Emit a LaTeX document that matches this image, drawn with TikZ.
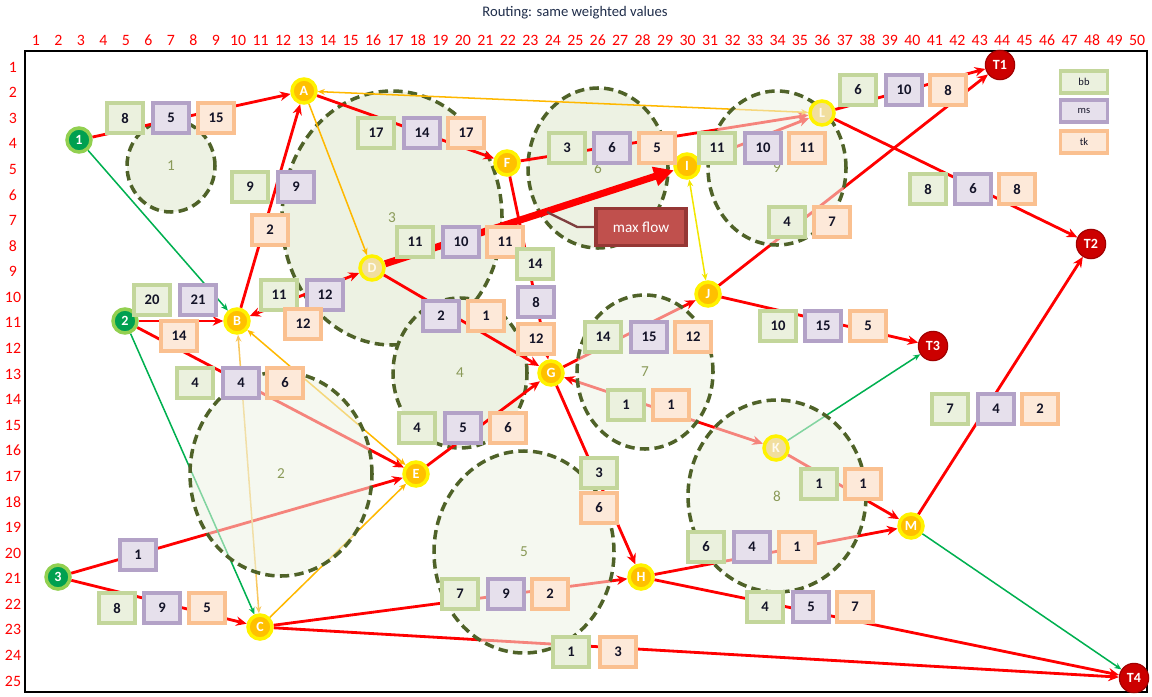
\documentclass[tikz,border=0pt]{standalone}
\usepackage{fontspec}
\setmainfont{Carlito}
\usetikzlibrary{arrows.meta,shapes.geometric,positioning}
\definecolor{bbLine}{HTML}{C3D69B}
\definecolor{bbFill}{HTML}{EBF1DE}
\definecolor{msLine}{HTML}{B3A2C7}
\definecolor{msFill}{HTML}{E6E0EC}
\definecolor{tkLine}{HTML}{FAC090}
\definecolor{tkFill}{HTML}{FDE9D9}
\definecolor{zoneLine}{HTML}{4F6228}
\definecolor{zoneFill}{HTML}{EDF2E3}
\definecolor{zoneInk}{HTML}{8A9A58}
\definecolor{routerFill}{HTML}{FFC000}
\definecolor{routerRing}{HTML}{FFF200}
\definecolor{paleFill}{HTML}{F1DE9E}
\definecolor{srcFill}{HTML}{00A050}
\definecolor{srcRing}{HTML}{92D050}
\definecolor{tgtFill}{HTML}{CC0000}
\definecolor{tgtRing}{HTML}{A00000}
\definecolor{linkRed}{HTML}{FF0000}
\definecolor{linkOrange}{HTML}{FFB800}
\definecolor{linkPale}{HTML}{F8C860}
\definecolor{linkYellow}{HTML}{F2E600}
\definecolor{linkGreen}{HTML}{00B050}
\definecolor{mfFill}{HTML}{C0504D}
\definecolor{mfLine}{HTML}{953735}
\definecolor{calloutInk}{HTML}{7F3F3F}
\definecolor{titleInk}{HTML}{1F2D4A}
\definecolor{boxInk}{HTML}{141428}
\pgfdeclarelayer{zones}
\pgfdeclarelayer{links}
\pgfdeclarelayer{veil}
\pgfsetlayers{zones,links,veil,main}

\begin{document}
\begin{tikzpicture}[x=0.03cm,y=-0.03cm,
  router/.style={circle,fill=routerFill,draw=routerRing,line width=3pt,minimum size=0.72cm,
                 inner sep=0pt,text=white,font=\bfseries\fontsize{12}{12}\selectfont},
  routerpale/.style={router,fill=paleFill,text=white!85!paleFill},
  source/.style={router,fill=srcFill,draw=srcRing},
  target/.style={circle,fill=tgtFill,draw=tgtRing,line width=1pt,minimum size=0.88cm,
                 inner sep=0pt,text=white,font=\bfseries\fontsize{12}{12}\selectfont},
  wbox/.style={rectangle,line width=3pt,minimum width=1.09cm,minimum height=0.89cm,inner sep=0pt,
               text=boxInk,font=\bfseries\fontsize{12.5}{12.5}\selectfont},
  bb/.style={wbox,draw=bbLine,fill=bbFill},
  ms/.style={wbox,draw=msLine,fill=msFill},
  tk/.style={wbox,draw=tkLine,fill=tkFill},
  keybox/.style={minimum width=1.41cm,minimum height=0.66cm,font=\fontsize{9}{9}\selectfont},
  zone/.style={ellipse,draw=zoneLine,fill=zoneFill,dash pattern=on 8pt off 4.5pt,line width=3pt,
               inner sep=0pt,text=zoneInk,font=\fontsize{13}{13}\selectfont},
  zoneveil/.style={zone,fill opacity=0.55,text opacity=1,draw opacity=1},
  axisnum/.style={text=linkRed,font=\fontsize{13.5}{13.5}\selectfont},
  flow/.style={-{Stealth[length=9pt,width=8pt]},linkRed,line width=2.4pt},
  flowboth/.style={flow,{Stealth[length=9pt,width=8pt]}-{Stealth[length=9pt,width=8pt]}},
  thin/.style={-{Stealth[length=6pt,width=5pt]},line width=1.3pt},
  thinboth/.style={thin,{Stealth[length=6pt,width=5pt]}-{Stealth[length=6pt,width=5pt]}},
  maxarr/.style={-{Triangle[length=17pt,width=16pt]},linkRed,line width=6pt},
  mfbox/.style={rectangle,fill=mfFill,draw=mfLine,line width=3pt,minimum width=2.7cm,
                minimum height=1.1cm,text=white,font=\fontsize{13}{13}\selectfont}]

  \useasboundingbox (0,0) rectangle (1152,696);

  % title and grid numbers
  \node[text=titleInk,font=\fontsize{12.5}{12.5}\selectfont] (title) at (575,13) {Routing: same weighted values};
  \foreach \c in {1,...,50}
    \node[axisnum] (col\c) at ({36+(\c-1)*22.47},40) {\c};
  \foreach \r in {1,...,25}
    \node[axisnum] (row\r) at (13,{67+(\r-1)*25.58}) {\r};
  \draw[line width=2.5pt] (25,51) rectangle (1147,692);

  % zones
  \begin{pgfonlayer}{zones}
    \node[zone,minimum width=2.64cm,minimum height=2.76cm] (z1) at (171,166) {1};
    \node[zone,minimum width=6.6cm,minimum height=7.62cm] (z3) at (392,218) {3};
    \node[zone,minimum width=4.2cm,minimum height=4.8cm] (z6) at (598,168) {6};
    \node[zone,minimum width=4.02cm,minimum height=4.5cm] (z4) at (460,373) {4};
  \end{pgfonlayer}
  \begin{pgfonlayer}{veil}
    \node[zoneveil,minimum width=4.14cm,minimum height=4.62cm] (z9) at (777,168) {9};
    \node[zoneveil,minimum width=4.08cm,minimum height=4.62cm] (z7) at (645,372) {7};
    \node[zoneveil,minimum width=5.46cm,minimum height=6.12cm] (z2) at (281,474) {2};
    \node[zoneveil,minimum width=5.4cm,minimum height=6.06cm] (z5) at (524,552) {5};
    \node[zoneveil,minimum width=5.34cm,minimum height=5.76cm] (z8) at (777,496) {8};
  \end{pgfonlayer}

  % sources, routers, targets
  \node[source] (S1) at (79,140) {1};
  \node[source] (S2) at (125,321) {2};
  \node[source] (S3) at (58,577) {3};
  \node[router] (A) at (304,91) {A};
  \node[router] (B) at (237,321) {B};
  \node[router] (C) at (260,627) {C};
  \node[routerpale] (D) at (372,268) {D};
  \node[router] (E) at (416,474) {E};
  \node[router] (F) at (507,163) {F};
  \node[router] (G) at (551,373) {G};
  \node[router] (H) at (641,577) {H};
  \node[router] (I) at (687,166) {I};
  \node[router] (J) at (708,294) {J};
  \node[routerpale] (K) at (776,448) {K};
  \node[routerpale] (L) at (822,113) {L};
  \node[router] (M) at (911,526) {M};
  \node[target] (T1) at (1000,65) {T1};
  \node[target] (T2) at (1091,244) {T2};
  \node[target] (T3) at (933,346) {T3};
  \node[target] (T4) at (1134,678) {T4};

  % links
  \begin{pgfonlayer}{links}
    \draw[flow] (S1) -- (A);
    \draw[flow] (A) -- (F);
    \draw[flow] (F) -- (L);
    \draw[flow] (I) -- (L);
    \draw[flow] (L) -- (T1);
    \draw[flow] (L) -- (T2);
    \draw[flow] (J) -- (T1);
    \draw[flow] (B) -- (A);
    \draw[flow] (F) -- (G);
    \draw[flowboth] (B) -- (D);
    \draw[flow] (D) -- (G);
    \draw[flow] (S2) -- (B);
    \draw[flow] (S2) -- (E);
    \draw[flow] (S3) -- (E);
    \draw[flow] (S3) -- (C);
    \draw[flow] (E) -- (G);
    \draw[flow] (C) -- (H);
    \draw[flow] (C) -- (T4);
    \draw[flow] (G) -- (H);
    \draw[flow] (G) -- (J);
    \draw[flowboth] (K) -- (G);
    \draw[flow] (J) -- (T3);
    \draw[flow] (K) -- (M);
    \draw[flow] (H) -- (M);
    \draw[flow] (H) -- (T4);
    \draw[flow] (M) -- (T2);
    \draw[thinboth,linkOrange] (A) -- (L);
    \draw[thin,linkOrange] (A) -- (D);
    \draw[thinboth,linkOrange] (B) -- (E);
    \draw[thinboth,linkPale] (B) -- (C);
    \draw[thin,linkOrange] (C) -- (E);
    \draw[thinboth,linkYellow] (I) -- (J);
    \draw[thin,linkGreen] (S1) -- (B);
    \draw[thin,linkGreen] (S2) -- (C);
    \draw[thin,linkGreen] (K) -- (T3);
    \draw[thin,linkGreen] (M) -- (T4);
    \draw[maxarr] (D) -- (I);
    \coordinate (mfpt) at (547,212);
  \end{pgfonlayer}

  % max flow callout
  \node[mfbox] (maxflow) at (641,227) {max flow};
  \draw[calloutInk,line width=2pt] (maxflow.west) -- ++(-17,0) -- (mfpt);

  % weights bb / ms / tk
  \node[bb] (b1A) at (125,118) {8};  \node[ms] (m1A) at (171,118) {5};  \node[tk] (t1A) at (216,118) {15};
  \node[bb] (bAF) at (376,133) {17}; \node[ms] (mAF) at (422,133) {14}; \node[tk] (tAF) at (466,133) {17};
  \node[bb] (bFL) at (567,148) {3};  \node[ms] (mFL) at (612,148) {6};  \node[tk] (tFL) at (657,148) {5};
  \node[bb] (bIL) at (717,148) {11}; \node[ms] (mIL) at (763,148) {10}; \node[tk] (tIL) at (807,148) {11};
  \node[bb] (bL1) at (858,90) {6};   \node[ms] (mL1) at (904,90) {10};  \node[tk] (tL1) at (948,90) {8};
  \node[bb] (bL2) at (928,189) {8};  \node[ms] (mL2) at (973,189) {6};  \node[tk] (tL2) at (1017,189) {8};
  \node[bb] (bJ1) at (787,222) {4};  \node[tk] (tJ1) at (832,222) {7};
  \node[bb] (bBA) at (250,187) {9};  \node[ms] (mBA) at (296,187) {9};  \node[tk] (tBA) at (270,230) {2};
  \node[bb] (bDI) at (415,242) {11}; \node[ms] (mDI) at (461,242) {10}; \node[tk] (tDI) at (505,242) {11};
  \node[bb] (bFG) at (535,264) {14}; \node[ms] (mFG) at (536,302) {8};  \node[tk] (tFG) at (536,339) {12};
  \node[bb] (b2B) at (152,300) {20}; \node[ms] (m2B) at (198,300) {21}; \node[tk] (t2B) at (179,336) {14};
  \node[bb] (b2E) at (195,383) {4};  \node[ms] (m2E) at (241,383) {4};  \node[tk] (t2E) at (285,383) {6};
  \node[bb] (bBD) at (279,295) {11}; \node[ms] (mBD) at (325,295) {12}; \node[tk] (tBD) at (303,324) {12};
  \node[ms] (mDG) at (441,316) {2};  \node[tk] (tDG) at (486,316) {1};
  \node[bb] (bEG) at (417,428) {4};  \node[ms] (mEG) at (463,428) {5};  \node[tk] (tEG) at (508,428) {6};
  \node[bb] (bGJ) at (603,337) {14}; \node[ms] (mGJ) at (649,337) {15}; \node[tk] (tGJ) at (693,337) {12};
  \node[bb] (bKG) at (626,405) {1};  \node[tk] (tKG) at (671,405) {1};
  \node[bb] (bJ3) at (778,326) {10}; \node[ms] (mJ3) at (823,326) {15}; \node[tk] (tJ3) at (868,326) {5};
  \node[bb] (bKM) at (819,484) {1};  \node[tk] (tKM) at (863,484) {1};
  \node[bb] (bHM) at (706,547) {6};  \node[ms] (mHM) at (752,547) {4};  \node[tk] (tHM) at (797,547) {1};
  \node[bb] (bH4) at (765,607) {4};  \node[ms] (mH4) at (811,607) {5};  \node[tk] (tH4) at (855,607) {7};
  \node[bb] (bM2) at (950,409) {7};  \node[ms] (mM2) at (996,409) {4};  \node[tk] (tM2) at (1040,409) {2};
  \node[bb] (bGH) at (599,473) {3};  \node[tk] (tGH) at (599,508) {6};
  \node[bb] (bCH) at (460,594) {7};  \node[ms] (mCH) at (506,594) {9};  \node[tk] (tCH) at (550,594) {2};
  \node[bb] (bC4) at (571,652) {1};  \node[tk] (tC4) at (618,652) {3};
  \node[ms] (m3E) at (138,555) {1};
  \node[bb] (b3C) at (117,608) {8};  \node[ms] (m3C) at (162,608) {9};  \node[tk] (t3C) at (207,608) {5};

  % key
  \node[bb,keybox] (keybb) at (1084,82) {bb};
  \node[ms,keybox] (keyms) at (1084,111) {ms};
  \node[tk,keybox] (keytk) at (1084,142) {tk};
\end{tikzpicture}
\end{document}
